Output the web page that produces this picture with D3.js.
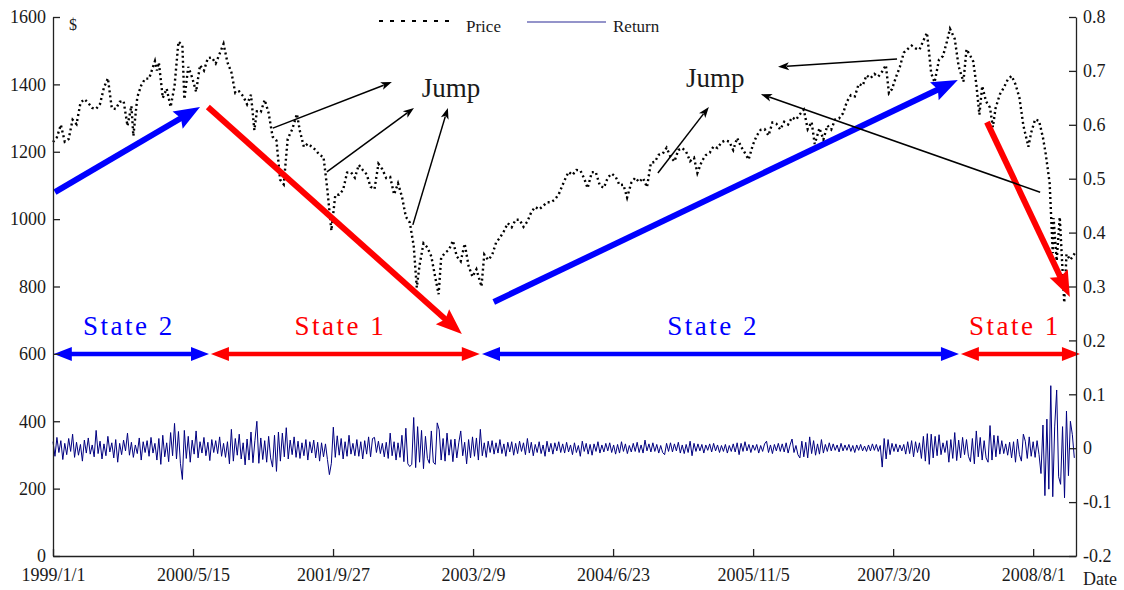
<!DOCTYPE html>
<html>
<head>
<meta charset="utf-8">
<script src="https://cdn.jsdelivr.net/npm/d3@7/dist/d3.min.js"></script>
<style>
  html,body{margin:0;padding:0;background:#fff;}
  svg{display:block;}
  svg text{font-family:"Liberation Serif","Times New Roman",Times,serif !important;}
</style>
</head>
<body>
<svg id="chart" width="1124" height="590"></svg>
<script>
// ---------------- DATA ----------------
const priceTicks = [0,200,400,600,800,1000,1200,1400,1600];
const returnTicks = [-0.2,-0.1,0,0.1,0.2,0.3,0.4,0.5,0.6,0.7,0.8];
const dateTicks = ["1999-01-01","2000-05-15","2001-09-27","2003-02-09","2004-06-23","2005-11-05","2007-03-20","2008-08-01"];
const dateTickLabels = ["1999/1/1","2000/5/15","2001/9/27","2003/2/9","2004/6/23","2005/11/5","2007/3/20","2008/8/1"];
const legendLabels = ["Price","Return"];

// Price ($)
const price = [
["1999-01-01",1229],["1999-01-15",1243],["1999-01-29",1280],["1999-02-12",1230],["1999-02-26",1238],["1999-03-12",1295],["1999-03-26",1282],["1999-04-09",1345],["1999-04-23",1356],["1999-05-07",1345],["1999-05-21",1330],["1999-06-04",1327],["1999-06-18",1342],["1999-07-02",1391],["1999-07-16",1418],["1999-07-30",1329],["1999-08-13",1327],["1999-08-27",1348],["1999-09-10",1351],["1999-09-24",1277],["1999-10-08",1336],["1999-10-15",1247],["1999-10-29",1362],["1999-11-12",1397],["1999-11-26",1417],["1999-12-10",1417],["1999-12-31",1469],
["2000-01-07",1441],["2000-01-14",1465],["2000-01-28",1360],["2000-02-11",1387],["2000-02-25",1333],["2000-03-10",1395],["2000-03-24",1527],["2000-04-07",1516],["2000-04-14",1356],["2000-04-28",1452],["2000-05-12",1420],["2000-05-26",1378],["2000-06-09",1457],["2000-06-23",1441],["2000-07-07",1478],["2000-07-21",1480],["2000-08-04",1462],["2000-08-18",1491],["2000-09-01",1520],["2000-09-15",1465],["2000-09-29",1436],["2000-10-13",1374],["2000-10-27",1379],["2000-11-10",1365],["2000-11-24",1341],["2000-12-08",1369],["2000-12-20",1264],["2000-12-29",1320],
["2001-01-12",1318],["2001-01-26",1354],["2001-02-09",1315],["2001-02-23",1245],["2001-03-09",1233],["2001-03-22",1117],["2001-04-04",1103],["2001-04-18",1238],["2001-05-04",1266],["2001-05-21",1312],["2001-06-01",1260],["2001-06-15",1214],["2001-06-29",1224],["2001-07-13",1215],["2001-07-27",1205],["2001-08-10",1190],["2001-08-24",1185],["2001-09-07",1085],["2001-09-21",966],["2001-10-05",1071],["2001-10-19",1073],["2001-11-02",1087],["2001-11-16",1138],["2001-11-30",1139],["2001-12-14",1123],["2001-12-28",1161],
["2002-01-11",1146],["2002-01-25",1133],["2002-02-08",1096],["2002-02-22",1089],["2002-03-08",1164],["2002-03-22",1148],["2002-04-05",1122],["2002-04-19",1125],["2002-05-03",1073],["2002-05-17",1106],["2002-05-31",1067],["2002-06-14",1007],["2002-06-28",990],["2002-07-12",921],["2002-07-23",797],["2002-08-02",864],["2002-08-16",928],["2002-08-30",916],["2002-09-13",889],["2002-09-27",827],["2002-10-09",777],["2002-10-18",885],["2002-11-01",900],["2002-11-15",909],["2002-11-29",936],["2002-12-13",889],["2002-12-27",875],
["2003-01-10",927],["2003-01-24",861],["2003-02-07",829],["2003-02-21",851],["2003-03-11",800],["2003-03-21",895],["2003-04-04",879],["2003-04-18",893],["2003-05-02",930],["2003-05-16",945],["2003-05-30",964],["2003-06-13",988],["2003-06-27",976],["2003-07-11",998],["2003-07-25",998],["2003-08-08",977],["2003-08-22",993],["2003-09-05",1021],["2003-09-19",1036],["2003-10-03",1029],["2003-10-17",1039],["2003-10-31",1050],["2003-11-14",1050],["2003-11-28",1058],["2003-12-12",1074],["2003-12-31",1112],
["2004-01-16",1140],["2004-01-30",1131],["2004-02-13",1146],["2004-02-27",1145],["2004-03-12",1120],["2004-03-24",1092],["2004-04-08",1139],["2004-04-22",1140],["2004-05-07",1099],["2004-05-21",1093],["2004-06-04",1123],["2004-06-18",1135],["2004-07-02",1126],["2004-07-16",1101],["2004-07-30",1102],["2004-08-12",1064],["2004-08-27",1108],["2004-09-10",1123],["2004-09-24",1110],["2004-10-08",1122],["2004-10-22",1095],["2004-11-05",1167],["2004-11-19",1170],["2004-12-03",1191],["2004-12-17",1194],["2004-12-31",1212],
["2005-01-14",1185],["2005-01-28",1171],["2005-02-11",1205],["2005-02-25",1211],["2005-03-11",1200],["2005-03-25",1172],["2005-04-08",1182],["2005-04-20",1137],["2005-05-06",1172],["2005-05-20",1190],["2005-06-03",1197],["2005-06-17",1216],["2005-07-01",1211],["2005-07-15",1228],["2005-07-29",1234],["2005-08-12",1230],["2005-08-26",1205],["2005-09-09",1241],["2005-09-23",1215],["2005-10-07",1196],["2005-10-20",1177],["2005-11-04",1220],["2005-11-18",1248],["2005-12-02",1265],["2005-12-16",1267],["2005-12-30",1248],
["2006-01-13",1287],["2006-01-27",1283],["2006-02-10",1266],["2006-02-24",1289],["2006-03-10",1281],["2006-03-24",1302],["2006-04-07",1295],["2006-04-21",1311],["2006-05-05",1325],["2006-05-19",1267],["2006-06-02",1288],["2006-06-13",1223],["2006-06-30",1270],["2006-07-14",1236],["2006-07-28",1278],["2006-08-11",1266],["2006-08-25",1296],["2006-09-08",1299],["2006-09-22",1314],["2006-10-06",1349],["2006-10-20",1368],["2006-11-03",1364],["2006-11-17",1401],["2006-12-01",1396],["2006-12-15",1427],["2006-12-29",1418],
["2007-01-12",1431],["2007-01-26",1423],["2007-02-09",1438],["2007-02-22",1457],["2007-03-05",1374],["2007-03-16",1386],["2007-03-30",1421],["2007-04-13",1452],["2007-04-27",1494],["2007-05-11",1505],["2007-05-25",1515],["2007-06-08",1507],["2007-06-22",1503],["2007-07-06",1530],["2007-07-19",1553],["2007-08-03",1433],["2007-08-15",1406],["2007-08-31",1474],["2007-09-14",1484],["2007-09-28",1527],["2007-10-09",1565],["2007-10-26",1535],["2007-11-09",1453],["2007-11-26",1408],["2007-12-07",1504],["2007-12-21",1484],["2007-12-31",1468],
["2008-01-11",1401],["2008-01-22",1310],["2008-02-01",1395],["2008-02-15",1349],["2008-02-29",1331],["2008-03-10",1273],["2008-03-20",1330],["2008-04-04",1370],["2008-04-18",1390],["2008-05-02",1414],["2008-05-16",1425],["2008-05-30",1400],["2008-06-13",1360],["2008-06-27",1278],["2008-07-15",1215],["2008-07-25",1257],["2008-08-08",1296],["2008-08-22",1292],["2008-09-05",1242],["2008-09-15",1193],["2008-09-29",1106],["2008-10-10",899],["2008-10-13",1003],["2008-10-24",876],["2008-11-04",1006],["2008-11-20",752],["2008-11-28",896],["2008-12-12",879],["2008-12-31",903]
];

// Weekly returns (%), one value per week from 1999-01-01
const returnStart = "1999-01-01";
const returnPct = [
// 1999
1.2,-1.5,2.0,-0.8,1.4,-2.1,0.9,-1.2,1.8,-0.6,2.6,-1.7,1.1,-1.3,0.7,-2.4,1.5,-0.9,1.9,-1.1,0.6,-1.6,3.3,-1.0,1.3,-2.0,0.8,-1.4,2.2,-0.7,1.0,-1.8,1.6,-2.6,0.9,-1.2,1.5,-0.5,2.8,-1.3,1.1,-1.7,0.6,-1.0,1.9,-2.2,1.2,-0.8,1.4,-1.5,2.0,-0.9,
// 2000
0.9,-2.2,1.8,-3.0,2.4,-1.6,1.0,-2.5,2.9,-1.4,4.6,-2.0,3.1,-2.8,-5.8,3.3,-1.9,2.2,-2.6,1.5,-1.1,3.2,-1.8,1.2,-0.9,2.0,-1.4,1.1,-2.3,1.6,-0.8,1.4,-1.0,2.1,-1.5,0.9,-1.7,1.2,-2.9,3.5,-2.4,1.8,-1.3,2.6,-2.0,1.0,-3.1,1.7,-2.2,3.0,-2.7,1.4,
// 2001
5.0,-2.8,1.9,-2.1,1.4,-2.6,2.2,-1.8,-3.5,2.4,-4.3,3.0,-2.4,2.8,-1.6,3.8,-2.0,1.5,-1.2,2.1,-1.7,1.3,-1.9,1.0,-1.4,1.6,-2.2,1.2,-0.9,1.5,-1.8,1.1,-2.4,1.0,-1.6,0.8,-2.1,-4.9,-2.8,3.9,-1.7,2.3,-1.3,1.8,-2.0,1.2,-1.5,2.4,-1.1,0.9,-1.4,1.6,
// 2002
-1.5,1.2,-2.0,1.4,-1.1,2.1,-1.6,1.8,2.0,-0.8,1.3,-1.0,0.9,-1.6,1.1,-1.9,2.8,-1.4,1.2,-2.2,1.0,-1.7,2.4,-2.5,3.7,-2.9,-3.4,-3.0,5.7,-3.6,4.0,-2.6,3.3,-3.8,2.2,-1.9,-2.8,3.2,-2.6,-3.0,4.7,3.4,-2.2,1.8,-2.4,2.8,-1.3,1.6,-2.5,1.7,-1.8,1.0,
// 2003
3.2,-1.4,1.1,-2.9,1.6,-1.8,2.1,-1.5,1.9,-2.2,3.5,-1.4,1.0,-1.7,1.3,-0.8,1.4,-1.1,1.0,-0.9,1.6,-1.0,0.8,-1.5,1.1,-0.7,1.2,-1.3,0.9,-1.0,1.3,-0.6,1.0,-1.2,1.8,-0.9,1.1,-1.4,0.7,-0.8,1.2,-1.0,0.6,-1.5,1.3,-0.7,0.9,-1.1,1.0,-0.5,1.2,-0.8,
// 2004
0.8,-0.9,1.1,-0.7,0.6,-1.2,1.0,-0.8,0.5,-1.5,1.3,-0.6,0.9,-1.1,0.7,-1.3,0.8,-0.6,1.2,-0.9,0.6,-0.7,0.9,-0.5,1.0,-0.8,0.6,-1.1,0.7,-0.9,1.2,-0.6,0.8,-1.0,0.5,-0.7,0.9,-0.6,1.1,-0.8,0.6,-0.9,1.5,-0.5,0.8,-0.7,1.0,-0.6,0.7,-0.9,0.5,-0.8,
// 2005
-1.2,0.9,-0.6,1.0,-0.7,0.8,-0.5,1.1,-0.9,0.6,-1.0,0.7,-0.8,1.3,-1.4,0.9,-0.6,0.8,-0.5,0.7,-0.9,0.6,-0.4,0.8,-0.7,0.9,-0.5,0.6,-0.8,0.5,-0.6,0.7,-0.9,0.5,-0.6,0.8,-0.7,1.0,-1.2,0.9,-0.6,1.2,-0.5,0.7,-0.8,0.6,-0.4,0.7,-0.9,0.5,-0.6,0.8,
// 2006
1.3,-0.8,0.6,-1.0,0.7,-0.5,0.9,-0.6,0.8,-0.7,1.0,-0.9,0.6,1.7,-0.8,0.5,-1.2,-1.8,1.3,-1.6,1.1,-1.8,2.1,-1.0,1.4,-1.3,0.8,-1.1,1.6,-0.9,0.7,-0.6,1.0,-0.5,0.8,-0.4,0.6,-0.7,0.9,-0.5,0.6,-0.4,0.7,-0.6,0.5,-0.8,0.6,-0.4,0.7,-0.5,0.4,-0.6,
// 2007
0.6,-0.5,0.8,-0.4,0.7,-0.6,0.5,-3.5,1.8,-2.0,1.6,-1.2,0.9,-0.6,0.8,-0.7,0.6,-0.5,0.7,-1.1,1.2,-1.0,1.4,-1.6,1.2,-0.8,1.0,-1.9,2.2,-2.4,2.7,-3.0,2.6,-1.8,2.2,-1.4,2.5,-1.2,1.0,-0.8,1.4,-2.6,1.6,-1.9,2.9,-2.3,1.5,-1.8,2.0,-1.2,1.6,-1.5,
// 2008
-2.5,1.8,-2.9,3.2,-1.6,2.0,-2.2,1.4,-1.8,-2.6,4.2,-2.2,2.4,-1.6,2.3,-1.1,1.4,-1.0,0.8,-1.3,1.1,-1.8,1.2,-2.6,1.7,-1.2,-2.4,2.6,1.3,-1.9,2.1,-1.5,1.2,-1.7,1.4,-1.2,-4.7,4.3,-8.8,5.4,-7.6,11.6,-9.0,4.1,10.8,-5.3,-6.7,4.0,-9.2,6.9,-5.1,5.0,2.5,-1.8
];

// Regime states (price-axis level 600)
const stateNames = ["State 2","State 1","State 2","State 1"];
const stateStart = ["1999-01-04","2000-07-18","2003-03-13","2007-11-17"];
const stateEnd   = ["2000-07-11","2003-03-05","2007-11-10","2009-01-15"];
const stateLabelDate = ["1999-09-29","2001-10-23","2005-06-15","2008-05-28"];
const stateLevel = 600, stateLabelLevel = 656;

// Trend arrows, in (date, price)
const trendFrom = [["1999-01-08",1080],["2000-07-07",1333],["2003-04-24",754],["2008-02-18",1288]];
const trendTo   = [["2000-06-09",1333],["2002-12-31",659],["2007-11-06",1413],["2008-12-10",769]];
const trendState = [2,1,2,1];

// "Jump" labels and pointers, in (date, price)
const jumpLabels = [["2002-08-10",1362],["2005-03-10",1392]];
const jumpFrom = [["2001-02-24",1270],["2001-09-05",1140],["2002-07-09",983],["2004-11-30",1137],["2007-04-03",1475],["2008-08-26",1080]];
const jumpTo   = [["2002-04-25",1407],["2002-07-13",1330],["2002-11-11",1330],["2005-05-31",1333],["2006-02-02",1452],["2005-12-03",1371]];

// ---------------- CHART ----------------
const W = 1124, H = 590;
const M = {left:53, right:48, top:17, bottom:34};
const FONT = '"Liberation Serif","Times New Roman",Times,serif';
const svg = d3.select("#chart");
const parse = d3.utcParse("%Y-%m-%d");
const stateColor = {1:"#ff0000", 2:"#0000ff"};
const txt = "#1a1a1a";

const x = d3.scaleUtc().domain([parse("1999-01-01"), parse("2009-01-01")]).range([M.left, W-M.right]);
const yL = d3.scaleLinear().domain([0,1600]).range([H-M.bottom, M.top]);
const yR = d3.scaleLinear().domain([-0.2,0.8]).range([H-M.bottom, M.top]);
const P = d => [x(parse(d[0])), yL(d[1])];

// Return line
const returns = returnPct.map((v,i) => ({date: d3.utcDay.offset(parse(returnStart), 7*i), r: v/100}));
svg.append("path").datum(returns)
  .attr("fill","none").attr("stroke","#000080").attr("stroke-width",1)
  .attr("d", d3.line().x(d=>x(d.date)).y(d=>yR(d.r)));

// Price dotted line
svg.append("path").datum(price)
  .attr("fill","none").attr("stroke","#000").attr("stroke-width",2.4)
  .attr("stroke-dasharray","2,3")
  .attr("d", d3.line().x(d=>x(parse(d[0]))).y(d=>yL(d[1])));

// Arrow helper
function arrow(p1, p2, o) {
  const dx=p2[0]-p1[0], dy=p2[1]-p1[1], L=Math.hypot(dx,dy), ux=dx/L, uy=dy/L;
  const g = svg.append("g");
  const hl=o.headLen, hw=o.headW/2, notch=o.notch||0;
  const s = o.both ? [p1[0]+ux*hl*0.8, p1[1]+uy*hl*0.8] : p1;
  const e = [p2[0]-ux*hl*0.8, p2[1]-uy*hl*0.8];
  g.append("line").attr("x1",s[0]).attr("y1",s[1]).attr("x2",e[0]).attr("y2",e[1])
    .attr("stroke",o.color).attr("stroke-width",o.width);
  const head = (tip, sx, sy) => {
    const bx = tip[0]-sx*hl, by = tip[1]-sy*hl;
    const nxx=-sy, nyy=sx;
    const pts = [tip, [bx+nxx*hw, by+nyy*hw], [tip[0]-sx*hl*(1-notch), tip[1]-sy*hl*(1-notch)], [bx-nxx*hw, by-nyy*hw]];
    g.append("polygon").attr("points", pts.map(p=>p.join(",")).join(" ")).attr("fill",o.color);
  };
  head(p2, ux, uy);
  if (o.both) head(p1, -ux, -uy);
}

// State double arrows
stateNames.forEach((n,i) => {
  const c = stateColor[n.endsWith("1")?1:2];
  arrow([x(parse(stateStart[i])), yL(stateLevel)], [x(parse(stateEnd[i])), yL(stateLevel)],
        {color:c, width:4.5, headLen:18, headW:14, both:true});
  svg.append("text").attr("x", x(parse(stateLabelDate[i]))).attr("y", yL(stateLabelLevel))
    .attr("text-anchor","middle").attr("fill",c).style("font-family",FONT)
    .attr("font-size",27).attr("letter-spacing","2.5px").text(n);
});

// Trend arrows
trendFrom.forEach((f,i) => {
  arrow(P(f), P(trendTo[i]), {color:stateColor[trendState[i]], width:6, headLen:26, headW:20, notch:0.15});
});

// Jump pointers
jumpFrom.forEach((f,i) => {
  arrow(P(f), P(jumpTo[i]), {color:"#000", width:1.5, headLen:11, headW:8, notch:0.25});
});
jumpLabels.forEach(j => {
  svg.append("text").attr("x", x(parse(j[0]))).attr("y", yL(j[1]))
    .attr("fill",txt).style("font-family",FONT).attr("font-size",27).text("Jump");
});

// Axes
const styleAxis = g => {
  g.attr("font-family", FONT);
  g.selectAll("path.domain").attr("stroke","#222").attr("stroke-width",1.3);
  g.selectAll(".tick line").attr("stroke","#222").attr("stroke-width",1.3);
  g.selectAll(".tick text").attr("fill",txt).attr("font-size",18).style("font-family",FONT);
};
svg.append("g").attr("transform",`translate(${M.left},0)`)
  .call(d3.axisLeft(yL).tickValues(priceTicks).tickSizeInner(-7).tickSizeOuter(0).tickPadding(7).tickFormat(d3.format("d")))
  .call(styleAxis);
svg.append("g").attr("transform",`translate(${W-M.right},0)`)
  .call(d3.axisRight(yR).tickValues(returnTicks).tickSizeInner(-7).tickSizeOuter(0).tickPadding(7)
    .tickFormat(d => { const v = Math.round(d*10)/10; return v===0 ? "0" : String(v); }))
  .call(styleAxis);
svg.append("g").attr("transform",`translate(0,${H-M.bottom})`)
  .call(d3.axisBottom(x).tickValues(dateTicks.map(parse)).tickSizeInner(-7).tickSizeOuter(0).tickPadding(12)
    .tickFormat((d,i) => dateTickLabels[i]))
  .call(styleAxis);

// Axis titles
svg.append("text").attr("x",69).attr("y",30).attr("fill",txt).style("font-family",FONT).attr("font-size",16).text("$");
svg.append("text").attr("x",1083).attr("y",585).attr("fill",txt).style("font-family",FONT).attr("font-size",18).text("Date");

// Legend
const lg = svg.append("g");
lg.append("line").attr("x1",379).attr("x2",451).attr("y1",21).attr("y2",21)
  .attr("stroke","#000").attr("stroke-width",2).attr("stroke-dasharray","4,7");
lg.append("text").attr("x",466).attr("y",32).attr("fill",txt).style("font-family",FONT).attr("font-size",17).text(legendLabels[0]);
lg.append("line").attr("x1",527).attr("x2",606).attr("y1",22).attr("y2",22)
  .attr("stroke","#7070b8").attr("stroke-width",1.5);
lg.append("text").attr("x",613).attr("y",32).attr("fill",txt).style("font-family",FONT).attr("font-size",17).text(legendLabels[1]);
</script>
</body>
</html>
